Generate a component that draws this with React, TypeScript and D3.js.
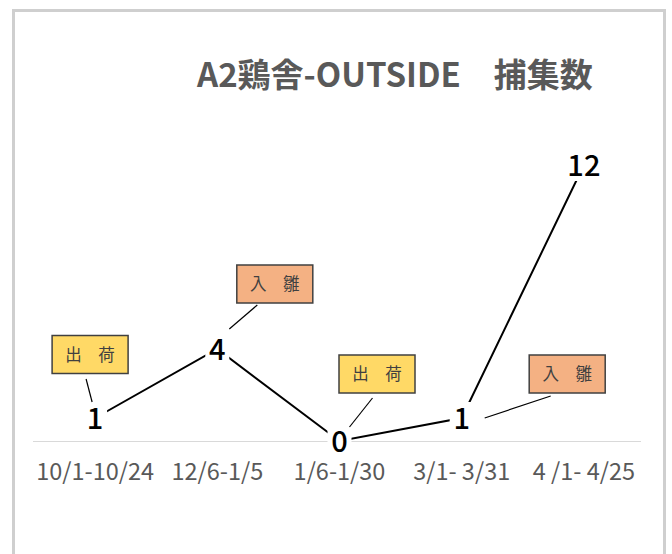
import React from "react";
import * as d3 from "d3";

const categories = ["10/1-10/24", "12/6-1/5", "1/6-1/30", "3/1- 3/31", "4 /1- 4/25"];
const counts = [1, 4, 0, 1, 12];
const titleText = "A2鶏舎-OUTSIDE　捕集数";
const noteCategories = ["10/1-10/24", "12/6-1/5", "1/6-1/30", "3/1- 3/31"];
const noteTexts = ["出　荷", "入　雛", "出　荷", "入　雛"];

const W = 672;
const H = 554;
const FONT = "'Noto Sans CJK JP', 'Noto Sans', sans-serif";

// layout offsets of callouts relative to their data point
const noteLayout = [
  { bx: -5, by: -63.5, l1: [-9, -39], l2: [-3, -16] },
  { bx: 57.5, by: -65, l1: [40, -44], l2: [12, -20] },
  { bx: 37.5, by: -67, l1: [33, -43], l2: [10, -14] },
  { bx: 105.5, by: -44, l1: [89, -22], l2: [23, 0] },
];

export default function App() {
  const x = d3.scaleBand<string>().domain(categories).range([34, 645]);
  const cx = (c: string) => (x(c) as number) + x.bandwidth() / 2;
  const y = d3.scaleLinear().domain([0, 12]).range([441, 165]);
  const line = d3
    .line<number>()
    .x((_, i) => cx(categories[i]))
    .y((d) => y(d));

  return (
    <svg
      width={W}
      height={H}
      style={{ position: "absolute", left: 0, top: 0, background: "#fff" }}
    >
      <rect x={13.5} y={10.5} width={651} height={570} fill="#fff" stroke="#cfcfcf" strokeWidth={3} />
      <text
        x={197}
        y={87}
        fontFamily={FONT}
        fontSize={33}
        fontWeight={700}
        fill="#595959"
      >
        {titleText}
      </text>
      <line x1={33} x2={641} y1={441.5} y2={441.5} stroke="#d9d9d9" strokeWidth={1} />
      {categories.map((c) => (
        <text
          key={c}
          x={cx(c)}
          y={480}
          textAnchor="middle"
          fontFamily={FONT}
          fontSize={23.5}
          fill="#595959"
        >
          {c}
        </text>
      ))}
      <path d={line(counts) || ""} fill="none" stroke="#000" strokeWidth={2} />
      {counts.map((v, i) => {
        const s = String(v);
        const w = s.length * 16 + 8;
        return (
          <g key={i}>
            <rect x={cx(categories[i]) - w / 2} y={y(v) - 16} width={w} height={32} fill="#fff" />
            <text
              x={cx(categories[i])}
              y={y(v) + 11}
              textAnchor="middle"
              fontFamily={FONT}
              fontSize={29}
              fontWeight={500}
              fill="#000"
            >
              {s}
            </text>
          </g>
        );
      })}
      {noteCategories.map((c, i) => {
        const idx = categories.indexOf(c);
        const px = cx(c);
        const py = y(counts[idx]);
        const L = noteLayout[i];
        const bw = 76;
        const bh = 38;
        const fill = noteTexts[i] === "出　荷" ? "#FFD966" : "#F4B183";
        return (
          <g key={i}>
            <line
              x1={px + L.l1[0]}
              y1={py + L.l1[1]}
              x2={px + L.l2[0]}
              y2={py + L.l2[1]}
              stroke="#000"
              strokeWidth={1.2}
            />
            <rect
              x={px + L.bx - bw / 2}
              y={py + L.by - bh / 2}
              width={bw}
              height={bh}
              fill={fill}
              stroke="#404040"
              strokeWidth={1.5}
            />
            <text
              x={px + L.bx}
              y={py + L.by + 6}
              textAnchor="middle"
              fontFamily={FONT}
              fontSize={16.5}
              fill="#404040"
            >
              {noteTexts[i]}
            </text>
          </g>
        );
      })}
    </svg>
  );
}
